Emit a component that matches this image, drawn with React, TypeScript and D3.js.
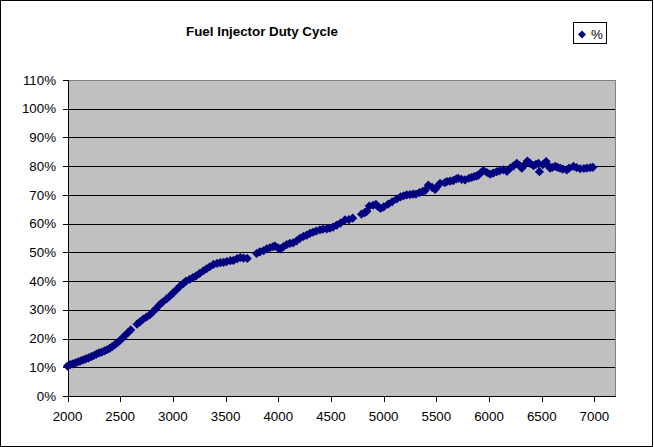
import React from "react";
import * as d3 from "d3";

const TITLE = "Fuel Injector Duty Cycle";
const SERIES_NAME = "%";

const rpm: number[] = [
  2000, 2025, 2050, 2075, 2100, 2125, 2150, 2175, 2200, 2225, 2250, 2275, 2300, 2325, 2350, 2375,
  2400, 2425, 2450, 2475, 2500, 2525, 2550, 2575, 2600, 2660, 2690, 2720, 2750, 2780, 2810, 2840,
  2870, 2900, 2940, 2975, 3000, 3035, 3070, 3100, 3125, 3160, 3190, 3220, 3255, 3290, 3320, 3350,
  3385, 3420, 3450, 3480, 3510, 3545, 3575, 3610, 3640, 3670, 3705, 3795, 3825, 3860, 3890, 3920,
  3950, 3970, 4000, 4020, 4050, 4080, 4110, 4140, 4175, 4206, 4240, 4270, 4300, 4330, 4360, 4395,
  4425, 4460, 4490, 4520, 4555, 4590, 4633, 4670, 4706, 4790, 4820, 4840, 4864, 4900, 4927, 4950,
  4972, 5000, 5044, 5080, 5124, 5160, 5190, 5219, 5250, 5280, 5307, 5340, 5370, 5393, 5424, 5460,
  5488, 5510, 5535, 5580, 5600, 5630, 5660, 5690, 5709, 5740, 5772, 5810, 5836, 5860, 5883, 5899,
  5920, 5946, 5980, 6010, 6040, 6073, 6100, 6136, 6170, 6200, 6230, 6263, 6290, 6311, 6340, 6364,
  6390, 6421, 6445, 6469, 6478, 6510, 6542, 6560, 6580, 6600, 6628, 6650, 6675, 6700, 6738, 6760,
  6801, 6830, 6865, 6900, 6928, 6960, 6985,
];

const duty: number[] = [
  10.4, 10.9, 11.2, 11.5, 11.9, 12.2, 12.6, 12.9, 13.3, 13.7, 14.1, 14.6, 15.0, 15.3, 15.7, 16.1,
  16.6, 17.2, 17.9, 18.6, 19.4, 20.3, 21.2, 22.1, 23.0, 25.0, 25.9, 26.8, 27.5, 28.2, 29.3, 30.4,
  31.6, 32.6, 33.8, 34.9, 35.8, 37.0, 38.3, 39.2, 40.0, 40.6, 41.2, 41.8, 42.7, 43.6, 44.3, 45.0,
  45.8, 46.2, 46.4, 46.5, 46.8, 47.1, 47.2, 47.8, 48.2, 48.0, 47.9, 49.6, 50.2, 50.6, 51.2, 51.6,
  52.0, 52.2, 51.5, 51.2, 52.0, 52.7, 53.1, 53.3, 54.0, 54.9, 55.6, 56.0, 56.6, 57.0, 57.4, 57.8,
  58.1, 58.2, 58.4, 58.8, 59.5, 60.2, 61.3, 61.4, 61.9, 63.3, 63.8, 64.3, 66.1, 66.4, 66.7, 65.8,
  65.3, 65.8, 66.8, 67.6, 68.6, 69.3, 69.7, 70.0, 70.1, 70.3, 70.3, 70.8, 71.2, 71.5, 73.4, 72.6,
  71.9, 73.0, 74.0, 74.3, 74.6, 74.8, 75.0, 75.6, 75.8, 75.4, 75.2, 75.8, 76.1, 76.4, 76.6, 76.9,
  77.6, 78.5, 77.8, 77.2, 77.6, 78.1, 78.4, 78.7, 78.2, 79.3, 80.0, 81.0, 80.2, 79.3, 80.6, 81.8,
  81.0, 80.2, 80.6, 81.0, 78.1, 80.5, 81.6, 80.2, 79.3, 79.6, 79.9, 79.6, 79.3, 79.0, 78.7, 79.3,
  79.9, 79.5, 79.1, 79.2, 79.3, 79.5, 79.6,
];

const xTicks: number[] = [2000, 2500, 3000, 3500, 4000, 4500, 5000, 5500, 6000, 6500, 7000];
const yTicks: number[] = [0, 10, 20, 30, 40, 50, 60, 70, 80, 90, 100, 110];

const W = 654;
const H = 447;
const FONT = "Arial, 'Liberation Sans', sans-serif";

export default function App() {
  const x = d3.scaleLinear().domain([2000, 7200]).range([67.5, 615.5]);
  const y = d3.scaleLinear().domain([0, 110]).range([396, 80]);
  const crisp = (v: number) => Math.round(v) + 0.5;
  const left = x(2000);
  const right = x(7200);
  const top = y(110);
  const bottom = y(0);
  const s = 4.6;
  const dpath = (cx: number, cy: number, r: number = s) =>
    `M${cx},${cy - r}L${cx + r},${cy}L${cx},${cy + r}L${cx - r},${cy}Z`;

  return (
    <div style={{ position: "absolute", left: 0, top: 0 }}>
      <svg width={W} height={H} style={{ display: "block", background: "#fff" }}>
        <rect x={0.5} y={0.5} width={652} height={446} fill="#fff" stroke="#000" strokeWidth={1} />
        <text x={262} y={36} textAnchor="middle" fontFamily={FONT} fontSize={13.33} fontWeight="bold" fill="#000">
          {TITLE}
        </text>
        <rect x={Math.round(left)} y={Math.round(top)} width={Math.round(right) - Math.round(left)} height={Math.round(bottom) - Math.round(top)} fill="#C0C0C0" />
        <line x1={Math.round(left)} x2={Math.round(right)} y1={crisp(top)} y2={crisp(top)} stroke="#808080" strokeWidth={1} />
        <line x1={crisp(right) - 1} x2={crisp(right) - 1} y1={Math.round(top)} y2={Math.round(bottom)} stroke="#808080" strokeWidth={1} />
        {yTicks.filter((t) => t > 0 && t < 110).map((t) => (
          <line key={t} x1={Math.round(left)} x2={Math.round(right) - 1} y1={crisp(y(t))} y2={crisp(y(t))} stroke="#000" strokeWidth={1} />
        ))}
        <line x1={crisp(left)} x2={crisp(left)} y1={Math.round(top)} y2={Math.round(bottom) + 1} stroke="#000" strokeWidth={1} />
        <line x1={Math.round(left)} x2={Math.round(right)} y1={crisp(bottom)} y2={crisp(bottom)} stroke="#000" strokeWidth={1} />
        {yTicks.map((t) => (
          <g key={"y" + t}>
            <line x1={Math.round(left) - 5} x2={Math.round(left)} y1={crisp(y(t))} y2={crisp(y(t))} stroke="#000" strokeWidth={1} />
            <text x={56} y={y(t) + 4.6} textAnchor="end" fontFamily={FONT} fontSize={13.33} fill="#000">
              {t + "%"}
            </text>
          </g>
        ))}
        {xTicks.map((t) => (
          <g key={"x" + t}>
            <line x1={crisp(x(t))} x2={crisp(x(t))} y1={Math.round(bottom)} y2={Math.round(bottom) + 6} stroke="#000" strokeWidth={1} />
            <text x={x(t)} y={421} textAnchor="middle" fontFamily={FONT} fontSize={13.33} fill="#000">
              {String(t)}
            </text>
          </g>
        ))}
        <g fill="#000080">
          {rpm.map((r, i) => (
            <path key={i} d={dpath(x(r), y(duty[i]))} />
          ))}
        </g>
        <rect x={573.5} y={22.5} width={33} height={21} fill="#fff" stroke="#000" strokeWidth={1} />
        <path d={dpath(582, 34.5, 4)} fill="#000080" />
        <text x={591} y={39} fontFamily={FONT} fontSize={13.33} fill="#000">
          {SERIES_NAME}
        </text>
      </svg>
    </div>
  );
}
